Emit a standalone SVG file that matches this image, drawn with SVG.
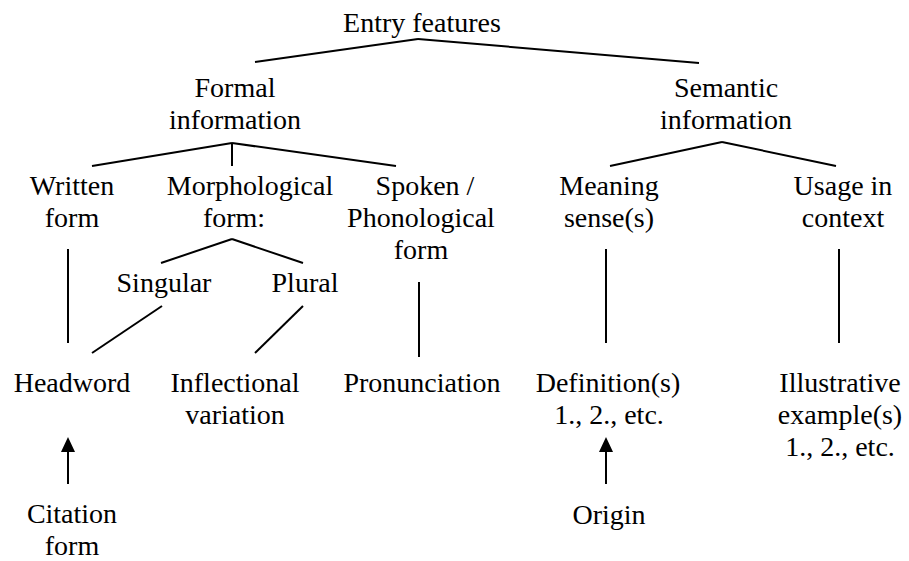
<svg xmlns="http://www.w3.org/2000/svg" width="909" height="561" viewBox="0 0 909 561">
<style>
text{font-family:"Liberation Serif","Times New Roman",serif;font-size:28px;fill:#000;text-anchor:middle}
.c line{stroke:#000;stroke-width:2;fill:none}
</style>
<defs>
<marker id="ah" viewBox="0 0 15 14" refX="0" refY="7" markerWidth="15" markerHeight="14" markerUnits="userSpaceOnUse" orient="auto">
<path d="M0,0 L15,7 L0,14 Z" fill="#000"/>
</marker>
</defs>
<rect width="909" height="561" fill="#fff"/>
<g id="connectors" class="c">
<line x1="255" y1="62" x2="418" y2="39"/>
<line x1="418" y1="39" x2="699" y2="63"/>
<line x1="92" y1="166" x2="232" y2="143"/>
<line x1="232" y1="143" x2="232" y2="166"/>
<line x1="232" y1="143" x2="396" y2="166"/>
<line x1="610" y1="166" x2="722" y2="142"/>
<line x1="722" y1="142" x2="836" y2="166"/>
<line x1="161" y1="263" x2="232" y2="239"/>
<line x1="232" y1="239" x2="303" y2="263"/>
<line x1="68" y1="249" x2="68" y2="343"/>
<line x1="162" y1="306" x2="92" y2="353"/>
<line x1="303" y1="306" x2="255" y2="353"/>
<line x1="419" y1="282" x2="419" y2="357"/>
<line x1="606" y1="249" x2="606" y2="343"/>
<line x1="839" y1="249" x2="839" y2="343"/>
<line x1="68" y1="484" x2="68" y2="452" marker-end="url(#ah)"/>
<line x1="606" y1="484" x2="606" y2="452" marker-end="url(#ah)"/>
</g>
<g id="entry"><text x="422" y="32">Entry features</text></g>
<g id="formal"><text x="235" y="97">Formal</text><text x="235" y="129">information</text></g>
<g id="semantic"><text x="726" y="97">Semantic</text><text x="726" y="129">information</text></g>
<g id="written"><text x="72" y="195">Written</text><text x="72" y="227">form</text></g>
<g id="morph"><text x="250" y="195">Morphological</text><text x="234" y="227">form:</text></g>
<g id="spoken"><text x="425" y="195">Spoken /</text><text x="421" y="227">Phonological</text><text x="421" y="259">form</text></g>
<g id="meaning"><text x="609" y="195">Meaning</text><text x="609" y="227">sense(s)</text></g>
<g id="usage"><text x="843" y="195">Usage in</text><text x="843" y="227">context</text></g>
<g id="singular"><text x="164" y="292">Singular</text></g>
<g id="plural"><text x="305" y="292">Plural</text></g>
<g id="headword"><text x="72" y="392">Headword</text></g>
<g id="inflectional"><text x="235" y="392">Inflectional</text><text x="235" y="424">variation</text></g>
<g id="pronunciation"><text x="422" y="392">Pronunciation</text></g>
<g id="definition"><text x="608" y="392">Definition(s)</text><text x="609" y="424">1., 2., etc.</text></g>
<g id="illustrative"><text x="840" y="392">Illustrative</text><text x="840" y="424">example(s)</text><text x="840" y="456">1., 2., etc.</text></g>
<g id="citation"><text x="72" y="523">Citation</text><text x="72" y="555">form</text></g>
<g id="origin"><text x="609" y="524">Origin</text></g>
</svg>
